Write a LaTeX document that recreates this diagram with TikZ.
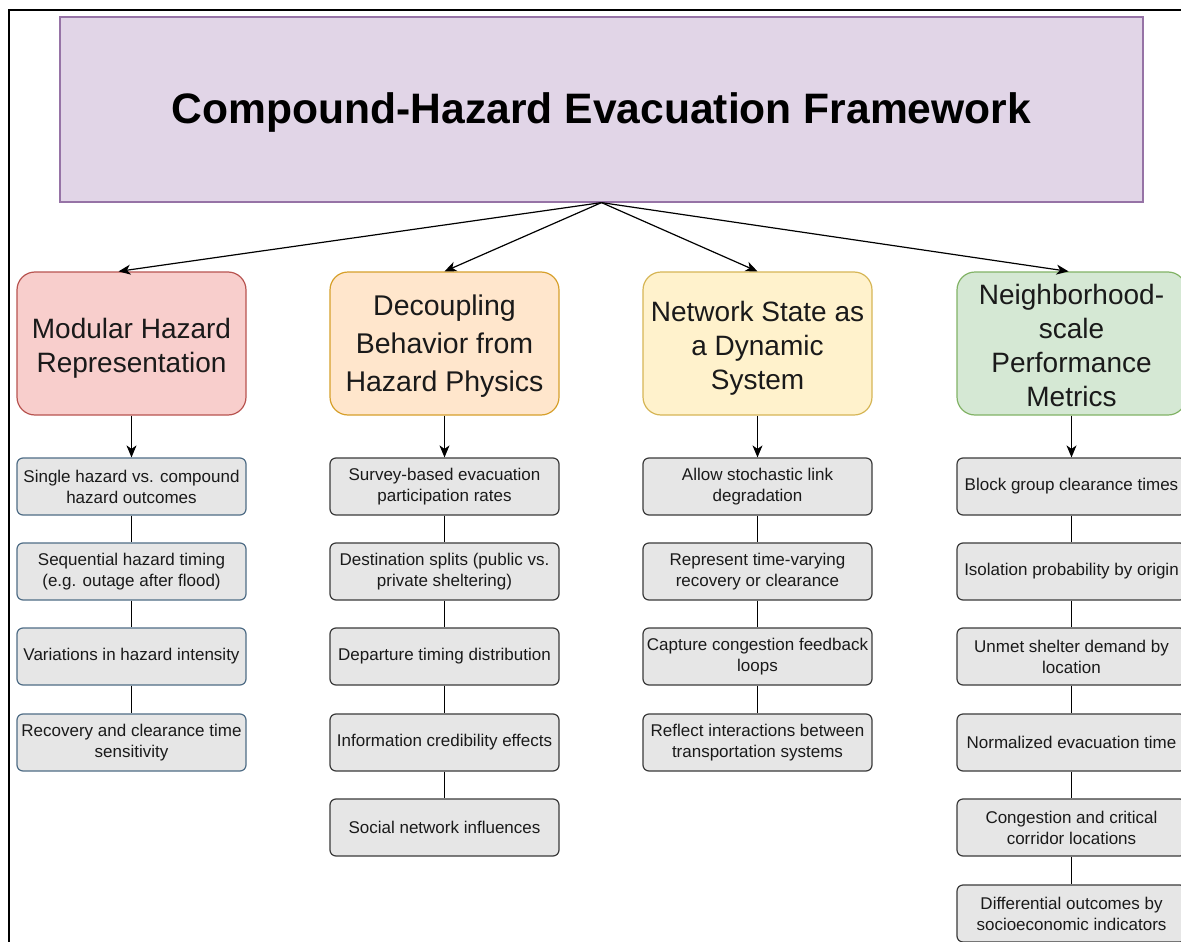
\documentclass[tikz,border=0pt]{standalone}
\usepackage{fontspec}
\setmainfont{Liberation Sans}
\usetikzlibrary{arrows.meta}
\definecolor{titlefill}{HTML}{E1D5E7}
\definecolor{titledraw}{HTML}{9673A6}
\definecolor{redfill}{HTML}{F8CECC}
\definecolor{reddraw}{HTML}{B85450}
\definecolor{orangefill}{HTML}{FFE6CC}
\definecolor{orangedraw}{HTML}{D7A02B}
\definecolor{yellowfill}{HTML}{FFF2CC}
\definecolor{yellowdraw}{HTML}{D6B656}
\definecolor{greenfill}{HTML}{D5E8D4}
\definecolor{greendraw}{HTML}{82B366}
\definecolor{itemfill}{HTML}{E6E6E6}
\definecolor{itemdraw}{HTML}{3A3A3A}
\definecolor{itemblue}{HTML}{4F6D86}
\definecolor{textgray}{HTML}{1A1A1A}
\tikzset{
  titlebox/.style={draw=titledraw, fill=titlefill, line width=1.2pt,
    minimum width=1083pt, minimum height=185pt, inner sep=0pt,
    font=\fontsize{42.6}{50}\selectfont\bfseries},
  headbox/.style={rounded corners=18pt, line width=1.2pt,
    minimum width=229pt, minimum height=143pt, inner sep=0pt, align=center,
    text=textgray, font=\fontsize{28}{34}\selectfont},
  itembox/.style={draw=itemdraw, fill=itemfill, rounded corners=6pt, line width=1.2pt,
    minimum width=229pt, minimum height=57pt, inner sep=0pt, align=center,
    text=textgray, font=\fontsize{17}{21}\selectfont},
  bluebox/.style={itembox, draw=itemblue},
  arr/.style={draw=black, line width=1.2pt, -{Stealth[length=12pt,width=10pt,inset=3.5pt]}},
  link/.style={draw=black, line width=1.2pt}
}
\begin{document}
\begin{tikzpicture}[x=1pt,y=-1pt]
\useasboundingbox (0,0) rectangle (1181,942);
\clip (0,0) rectangle (1181,942);
\fill[white] (0,0) rectangle (1181,942);
\draw[line width=2pt] (9,950) -- (9,10) -- (1190,10);

\node[titlebox] (title) at (601.5,109.5) {\rule{0pt}{37pt}Compound-Hazard Evacuation Framework};

\node[headbox, draw=reddraw, fill=redfill] (h1) at (131.5,343.5) {\rule{0pt}{30pt}Modular Hazard\\Representation};
\node[headbox, draw=orangedraw, fill=orangefill, font=\fontsize{28.5}{38}\selectfont] (h2) at (444.5,343.5) {\rule{0pt}{25pt}Decoupling\\Behavior from\\Hazard Physics};
\node[headbox, draw=yellowdraw, fill=yellowfill] (h3) at (757.5,343.5) {\rule{0pt}{30pt}Network State as\\a Dynamic\\System};
\node[headbox, draw=greendraw, fill=greenfill] (h4) at (1071.5,343.5) {\rule{0pt}{24pt}Neighborhood-\\scale\\Performance\\Metrics};

\draw[arr] (title.south) -- ([xshift=-13pt]h1.north);
\draw[arr] (title.south) -- (h2.north);
\draw[arr] (title.south) -- (h3.north);
\draw[arr] (title.south) -- ([xshift=-3pt]h4.north);

% column 1
\node[bluebox] (a1) at (131.5,486.5) {Single hazard vs. compound\\hazard outcomes};
\node[bluebox] (a2) at (131.5,571.5) {Sequential hazard timing\\(e.g. outage after flood)};
\node[bluebox] (a3) at (131.5,656.5) {Variations in hazard intensity};
\node[bluebox] (a4) at (131.5,742.5) {Recovery and clearance time\\sensitivity};
% column 2
\node[itembox] (b1) at (444.5,486.5) {Survey-based evacuation\\participation rates};
\node[itembox] (b2) at (444.5,571.5) {Destination splits (public vs.\\private sheltering)};
\node[itembox] (b3) at (444.5,656.5) {Departure timing distribution};
\node[itembox] (b4) at (444.5,742.5) {Information credibility effects};
\node[itembox] (b5) at (444.5,827.5) {Social network influences};
% column 3
\node[itembox] (c1) at (757.5,486.5) {Allow stochastic link\\degradation};
\node[itembox] (c2) at (757.5,571.5) {Represent time-varying\\recovery or clearance};
\node[itembox] (c3) at (757.5,656.5) {Capture congestion feedback\\loops};
\node[itembox] (c4) at (757.5,742.5) {Reflect interactions between\\transportation systems};
% column 4
\node[itembox] (d1) at (1071.5,486.5) {Block group clearance times};
\node[itembox] (d2) at (1071.5,571.5) {Isolation probability by origin};
\node[itembox] (d3) at (1071.5,656.5) {Unmet shelter demand by\\location};
\node[itembox] (d4) at (1071.5,742.5) {Normalized evacuation time};
\node[itembox] (d5) at (1071.5,827.5) {Congestion and critical\\corridor locations};
\node[itembox] (d6) at (1071.5,913.5) {Differential outcomes by\\socioeconomic indicators};

\draw[arr] (h1.south) -- (a1.north);
\draw[arr] (h2.south) -- (b1.north);
\draw[arr] (h3.south) -- (c1.north);
\draw[arr] (h4.south) -- (d1.north);

\draw[link] (a1) -- (a2);
\draw[link] (a2) -- (a3);
\draw[link] (a3) -- (a4);
\draw[link] (b1) -- (b2);
\draw[link] (b2) -- (b3);
\draw[link] (b3) -- (b4);
\draw[link] (b4) -- (b5);
\draw[link] (c1) -- (c2);
\draw[link] (c2) -- (c3);
\draw[link] (c3) -- (c4);
\draw[link] (d1) -- (d2);
\draw[link] (d2) -- (d3);
\draw[link] (d3) -- (d4);
\draw[link] (d4) -- (d5);
\draw[link] (d5) -- (d6);
\end{tikzpicture}
\end{document}
